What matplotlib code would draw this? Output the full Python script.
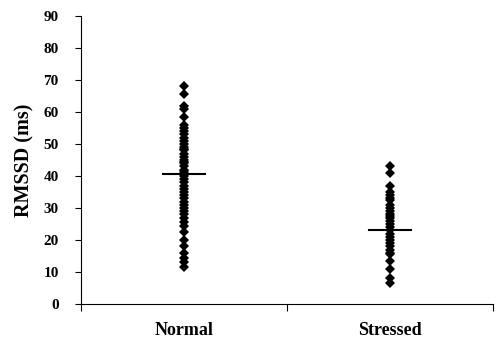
import matplotlib
matplotlib.use("Agg")
import matplotlib.pyplot as plt
import numpy as np

categories = ["Normal", "Stressed"]
normal_values = [68, 65.5, 62, 61, 58.5, 56, 55, 54, 53, 52, 51, 50, 49, 48.5, 48, 47,
                 46, 45, 44.5, 44, 43, 42, 41.5, 41, 40, 39, 38, 37, 36, 35, 34, 33,
                 32, 31, 30, 29, 28, 27, 25.5, 24.5, 22.5, 20, 18, 16, 14.5, 13, 11.5]
stressed_values = [43, 41, 37, 35, 34, 33, 32.5, 31, 30, 29, 28, 27.5, 27, 26, 25, 24,
                   23, 22, 21, 20, 19, 18, 17, 16, 15.5, 13.5, 11, 8, 6.5]
mean_values = [40.5, 23]
yticks = list(range(0, 91, 10))

plt.rcParams['font.family'] = ['Liberation Serif', 'DejaVu Serif']
plt.rcParams['font.weight'] = 'bold'

fig = plt.figure(figsize=(4.96, 3.39), dpi=100)
ax = fig.add_axes([0.163, 0.103, 0.831, 0.850])

for i, vals in enumerate([normal_values, stressed_values]):
    ax.plot([i] * len(vals), vals, linestyle='none', marker='D', markersize=5.5,
            color='black', markeredgewidth=0)
    ax.plot([i - 0.1, i + 0.1], [mean_values[i], mean_values[i]], color='black', lw=1.5)

ax.set_xlim(-0.5, 1.5)
ax.set_ylim(0, 90)
ax.set_yticks(yticks)
ax.set_yticklabels([str(t) for t in yticks], fontsize=11, fontweight='bold')
ax.set_xticks([-0.5, 0.5, 1.5])
ax.set_xticklabels([])
ax.set_xticks([0, 1], minor=True)
ax.set_xticklabels(categories, minor=True, fontsize=13, fontweight='bold')
ax.tick_params(axis='x', which='minor', length=0, pad=13)
ax.tick_params(axis='x', which='major', length=5, direction='out', width=0.8)
ax.tick_params(axis='y', length=4, direction='out', width=0.8, pad=12)
ax.set_ylabel("RMSSD (ms)", fontsize=14.5, fontweight='bold', labelpad=6)
ax.spines['top'].set_visible(False)
ax.spines['right'].set_visible(False)

fig.savefig("out.png", dpi=100)
